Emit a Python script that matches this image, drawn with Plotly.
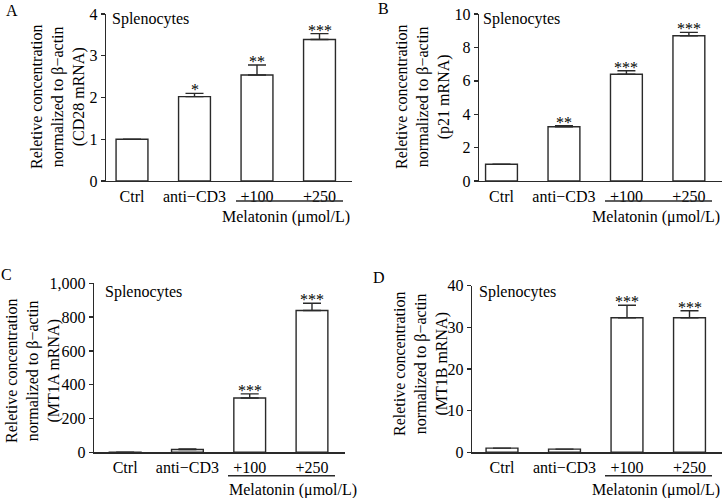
import plotly.graph_objects as go

W, H = 724, 498

categories = ["Ctrl", "anti−CD3", "+100", "+250"]

cd28_values = [1.0, 2.02, 2.54, 3.39]
cd28_errors = [0.0, 0.08, 0.24, 0.14]
cd28_stars = ["", "*", "**", "***"]

p21_values = [1.0, 3.25, 6.39, 8.70]
p21_errors = [0.0, 0.06, 0.21, 0.20]
p21_stars = ["", "**", "***", "***"]

mt1a_values = [1.0, 17.0, 321.0, 839.0]
mt1a_errors = [0.0, 3.0, 25.0, 43.0]
mt1a_stars = ["", "", "***", "***"]

mt1b_values = [1.0, 0.77, 32.3, 32.3]
mt1b_errors = [0.0, 0.0, 3.0, 1.7]
mt1b_stars = ["", "", "***", "***"]

panel_letters = ["A", "B", "C", "D"]
genes = ["CD28 mRNA", "p21 mRNA", "MT1A mRNA", "MT1B mRNA"]
y_ranges = [[0, 4], [0, 10], [0, 1000], [0, 40]]
y_dticks = [1, 2, 200, 10]

FONT = "Liberation Serif, Times New Roman, serif"
INK = "#2a2a2a"

# pixel layout of each panel
panels = [
    dict(px=(106, 352), py=(14, 181), xr=[-0.416, 3.52], title_c=(58, 97), letter=(12, 10),
         spl=(110, 19), mel=(286, "center"), line=(236, 343, 201), mel_y=217),
    dict(px=(479, 722), py=(14, 181), xr=[-0.36, 3.53], title_c=(423, 97), letter=(383, 8),
         spl=(481, 19), mel=(722, "right"), line=(605, 712, 201), mel_y=217),
    dict(px=(94, 345), py=(283.3, 452.3), xr=[-0.5, 3.53], title_c=(33, 371), letter=(6, 274),
         spl=(103, 292), mel=(293, "center"), line=(228, 335, 475.7), mel_y=490),
    dict(px=(472, 722), py=(285.7, 452.3), xr=[-0.48, 3.52], title_c=(421, 364), letter=(379, 277),
         spl=(477, 292), mel=(722, "right"), line=(605, 712, 475.7), mel_y=490),
]

data = [
    (cd28_values, cd28_errors, cd28_stars),
    (p21_values, p21_errors, p21_stars),
    (mt1a_values, mt1a_errors, mt1a_stars),
    (mt1b_values, mt1b_errors, mt1b_stars),
]


def fx(px):
    return px / W


def fy(py):
    return 1 - py / H


fig = go.Figure()
annotations = []
shapes = []
xs = list(range(len(categories)))
TXT = dict(family=FONT, size=16, color="black")

for i, (vals, errs, stars) in enumerate(data):
    n = "" if i == 0 else str(i + 1)
    p = panels[i]
    fig.add_trace(go.Bar(
        x=xs, y=vals, width=0.51,
        marker=dict(color="white", line=dict(color=INK, width=1.4)),
        error_y=dict(type="data", array=errs, arrayminus=[0] * len(errs), symmetric=False,
                     color=INK, thickness=1.4, width=9),
        xaxis="x" + n, yaxis="y" + n, showlegend=False,
    ))
    fig.update_layout(**{
        "xaxis" + n: dict(
            domain=[fx(p["px"][0]), fx(p["px"][1])], range=p["xr"],
            tickvals=xs, ticktext=categories, ticks="", showline=True,
            linecolor=INK, linewidth=1.4, showgrid=False, zeroline=False,
            anchor="y" + n, tickfont=TXT, fixedrange=True, automargin=False,
        ),
        "yaxis" + n: dict(
            domain=[fy(p["py"][1]), fy(p["py"][0])], range=y_ranges[i],
            dtick=y_dticks[i], tick0=0, ticks="outside", ticklen=4, tickwidth=1.4,
            tickcolor=INK, showline=True, linecolor=INK, linewidth=1.4,
            showgrid=False, zeroline=False, anchor="x" + n, tickformat=",",
            tickfont=TXT, fixedrange=True, automargin=False,
        ),
    })
    for k, s in enumerate(stars):
        if s:
            annotations.append(dict(
                x=xs[k], y=vals[k] + errs[k], xref="x" + n, yref="y" + n,
                text=s, showarrow=False, yanchor="bottom", yshift=-7, font=TXT,
            ))
    # decorations placed on a full-figure pixel overlay axis pair (x5/y5)
    annotations.append(dict(
        x=p["title_c"][0], y=p["title_c"][1], xref="x5", yref="y5",
        text="Reletive concentration<br>normalized to β−actin<br>(" + genes[i] + ")",
        textangle=-90, showarrow=False, xanchor="center", yanchor="middle", font=TXT,
    ))
    annotations.append(dict(
        x=p["letter"][0], y=p["letter"][1], xref="x5", yref="y5",
        text=panel_letters[i], showarrow=False, xanchor="center", yanchor="middle", font=TXT,
    ))
    annotations.append(dict(
        x=p["spl"][0], y=p["spl"][1], xref="x5", yref="y5",
        text="Splenocytes", showarrow=False, xanchor="left", yanchor="middle", font=TXT,
    ))
    annotations.append(dict(
        x=p["mel"][0], y=p["mel_y"], xref="x5", yref="y5",
        text="Melatonin (μmol/L)", showarrow=False, xanchor=p["mel"][1], yanchor="middle",
        font=TXT,
    ))
    shapes.append(dict(
        type="line", xref="x5", yref="y5",
        x0=p["line"][0], x1=p["line"][1], y0=p["line"][2], y1=p["line"][2],
        line=dict(color=INK, width=1.4),
    ))

# invisible overlay axes spanning the whole figure, in pixel units
fig.add_trace(go.Scatter(x=[], y=[], xaxis="x5", yaxis="y5", showlegend=False,
                         hoverinfo="skip"))
fig.update_layout(
    xaxis5=dict(domain=[0, 1], range=[0, W], visible=False, anchor="y5",
                fixedrange=True, automargin=False),
    yaxis5=dict(domain=[0, 1], range=[H, 0], visible=False, anchor="x5",
                fixedrange=True, automargin=False),
)

fig.update_layout(
    width=W, height=H, autosize=False, margin=dict(l=0, r=0, t=0, b=0, pad=0),
    paper_bgcolor="white", plot_bgcolor="rgba(0,0,0,0)",
    annotations=annotations, shapes=shapes, bargap=0, font=TXT,
)

fig.write_html(
    "out.html",
    config={"responsive": False, "displayModeBar": False, "staticPlot": True},
    post_script="document.body.style.margin='0';document.body.style.overflow='hidden';",
)
